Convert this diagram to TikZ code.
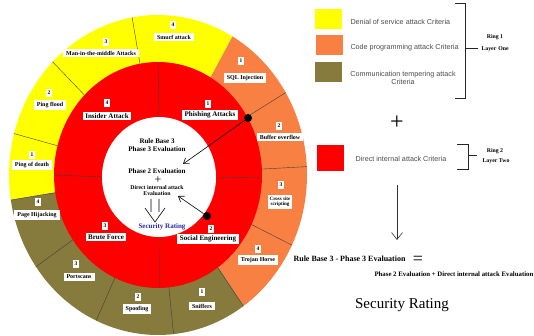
\documentclass[tikz,border=0pt]{standalone}
\usepackage{fontspec}
\setmainfont{Liberation Serif}
\newfontfamily\legfont{Liberation Sans}
\usetikzlibrary{arrows.meta}
\definecolor{cyel}{RGB}{255,255,0}
\definecolor{corg}{RGB}{247,128,66}
\definecolor{coli}{RGB}{134,122,60}
\definecolor{cred}{RGB}{255,0,0}
\definecolor{cblue}{RGB}{40,40,170}
\begin{document}
\begin{tikzpicture}[x=1pt,y=-1pt,
  lbl/.style={fill=white,inner xsep=3pt,inner ysep=2.2pt,font=\bfseries\fontsize{6}{6.5}\selectfont},
  slbl/.style={fill=white,inner xsep=2pt,inner ysep=1.5pt,align=center,font=\bfseries\fontsize{5}{5.5}\selectfont},
  ilbl/.style={fill=white,inner xsep=2.5pt,inner ysep=1.6pt,font=\bfseries\fontsize{7}{7.5}\selectfont},
  num/.style={fill=white,inner sep=2pt,font=\bfseries\fontsize{5.5}{5.5}\selectfont},
  ctext/.style={align=center,font=\bfseries\fontsize{7}{8}\selectfont},
  sep/.style={black!75,line width=0.4pt},
  dot/.style={circle,fill=black,inner sep=0pt,minimum size=8pt},
  arr/.style={black,line width=0.6pt,-{Straight Barb[length=5pt,width=7pt]}},
  sq/.style={minimum width=27pt,minimum height=20pt,inner sep=0pt},
  legtxt/.style={text=black!70,font=\legfont\fontsize{7.2}{8.5}\selectfont,align=center},
  ringtxt/.style={font=\bfseries\fontsize{5.8}{6}\selectfont},
  brk/.style={black!85,line width=0.8pt}
]
\useasboundingbox (0,0) rectangle (534,336);
\fill[white] (0,0) rectangle (534,336);
% outer ring sectors
\fill[cyel] (158,175) -- plot[domain=60:189,samples=60] ({158+149*cos(\x)},{175-160*sin(\x)}) -- cycle;
\fill[corg] (158,175) -- plot[domain=-55:60,samples=60] ({158+149*cos(\x)},{175-160*sin(\x)}) -- cycle;
\fill[coli] (158,175) -- plot[domain=189:305,samples=60] ({158+149*cos(\x)},{175-160*sin(\x)}) -- cycle;
% red ring and white centre
\fill[cred] (158,175) ellipse [x radius=104pt, y radius=113pt];
\fill[white] (159,177) ellipse [x radius=57pt, y radius=60pt];
% separators outer ring
\foreach \a in {31,3,-26,-55,-84,-114.5,-145,-171,165,135,100}
  \draw[sep] ({158+104*cos(\a)},{175-113*sin(\a)}) -- ({158+149*cos(\a)},{175-160*sin(\a)});
% separators red ring
\foreach \a in {90,-1,-89,180}
  \draw[sep] ({159+57*cos(\a)},{177-60*sin(\a)}) -- ({158+104*cos(\a)},{175-113*sin(\a)});

% outer labels
\node[num] (n1) at (173,25) {4};
\node[lbl] (l1) at (174,37) {Smurf attack};
\node[num] (n2) at (106,42) {3};
\node[lbl] (l2) at (101,53) {Man-in-the-middle Attacks};
\node[num] (n3) at (49,93) {2};
\node[lbl] (l3) at (50,105) {Ping flood};
\node[num] (n4) at (32,155) {1};
\node[lbl] (l4) at (32,165) {Ping of death};
\node[num] (n5) at (38,202) {4};
\node[lbl] (l5) at (37,215) {Page Hijacking};
\node[num] (n6) at (76,264) {3};
\node[lbl] (l6) at (79,277) {Portscans};
\node[num] (n7) at (138,297) {2};
\node[lbl] (l7) at (137,309) {Spoofing};
\node[num] (n8) at (202,292) {1};
\node[lbl] (l8) at (202,306) {Sniffers};
\node[num] (n9) at (258,249) {4};
\node[lbl] (l9) at (258,260) {Trojan Horse};
\node[num] (n10) at (281,185) {3};
\node[slbl] (l10) at (280,202) {Cross site\\scripting};
\node[num] (n11) at (279,126) {2};
\node[lbl] (l11) at (280,137) {Buffer overflow};
\node[num] (n12) at (241,61) {1};
\node[lbl] (l12) at (245,78) {SQL Injection};
% red ring labels
\node[num] (r1) at (208,104) {1};
\node[ilbl] (q1) at (210,115) {Phishing Attacks};
\node[num] (r2) at (107,103) {4};
\node[ilbl] (q2) at (107,116) {Insider Attack};
\node[num] (r3) at (105,226) {3};
\node[ilbl] (q3) at (106,237) {Brute Force};
\node[num] (r4) at (211,229) {2};
\node[ilbl] (q4) at (208,239) {Social Engineering};

% centre text
\node[ctext] (rb) at (157,145) {Rule Base 3\\Phase 3 Evaluation};
\node[ctext] (p2) at (157,171) {Phase 2 Evaluation};
\node[font=\fontsize{12}{12}\selectfont] (pl) at (158,180) {+};
\node[align=center,font=\bfseries\fontsize{5.8}{6}\selectfont] (di) at (157,191) {Direct internal attack\\Evaluation};
\node[text=cblue,font=\bfseries\fontsize{7}{8}\selectfont] (sr) at (162,227) {Security Rating};
\coordinate (dl1) at (151,199); \coordinate (dl2) at (151,212);
\coordinate (dr1) at (159,199); \coordinate (dr2) at (159,212);
\coordinate (hl) at (145,208); \coordinate (ht) at (155,222); \coordinate (hr) at (165,208);
\draw[line width=0.6pt] (dl1) -- (dl2) (dr1) -- (dr2) (hl) -- (ht) -- (hr);

% black dots and arrows
\node[dot] (d1) at (248,118) {};
\node[dot] (d2) at (207,216) {};
\coordinate (t1) at (183,164);
\coordinate (t2) at (178,196);
\draw[arr] (d1) -- (t1);
\draw[arr] (d2) -- (t2);

% legend
\node[sq,fill=cyel] (sy) at (328.5,19) {};
\node[sq,fill=corg] (so) at (329,45.5) {};
\node[sq,fill=coli] (sl) at (328.5,72) {};
\node[sq,fill=cred,minimum height=26pt] (sd) at (330.5,158) {};
\node[legtxt,anchor=west] (ty) at (347,22) {Denial of service attack Criteria};
\node[legtxt,anchor=west] (to) at (347,48) {Code programming attack Criteria};
\node[legtxt] (tl) at (403,78) {Communication tempering attack\\Criteria};
\node[legtxt] (td) at (401,159) {Direct internal attack Criteria};
% bracket 1
\coordinate (b1a) at (455,3); \coordinate (b1b) at (465,3);
\coordinate (b1c) at (465,98); \coordinate (b1d) at (455,98);
\coordinate (b1m) at (465,48); \coordinate (b1e) at (478,48);
\draw[brk] (b1a) -- (b1b) -- (b1c) -- (b1d);
\draw[black!85,line width=0.6pt] (b1m) -- (b1e);
\node[ringtxt] (ring1) at (495,37) {Ring 1};
\node[ringtxt,anchor=west] (lay1) at (478,49) {Layer\,\,One};
% plus
\node[font=\fontsize{24}{24}\selectfont] (plus) at (397,123) {+};
% bracket 2
\coordinate (b2a) at (457,144); \coordinate (b2b) at (468,144);
\coordinate (b2c) at (468,169); \coordinate (b2d) at (457,169);
\coordinate (b2m) at (468,155); \coordinate (b2e) at (477,155);
\draw[brk] (b2a) -- (b2b) -- (b2c) -- (b2d);
\draw[black!85,line width=0.6pt] (b2m) -- (b2e);
\node[ringtxt] (ring2) at (495,151) {Ring 2};
\node[ringtxt] (lay2) at (496,161) {Layer Two};
% down arrow
\coordinate (da1) at (397,185);
\coordinate (da2) at (397,240);
\draw[black!80,line width=0.6pt,-{Straight Barb[length=7pt,width=11pt]}] (da1) -- (da2);
% equation
\node[anchor=west,font=\bfseries\fontsize{8}{9}\selectfont] (eqa) at (290,259) {Rule Base 3 - Phase 3 Evaluation};
\node[font=\fontsize{18}{18}\selectfont] (eq) at (418,260) {=};
\node[anchor=west,font=\bfseries\fontsize{6.8}{7}\selectfont] (eqb) at (371,274) {Phase 2 Evaluation + Direct internal attack Evaluation};
\node[font=\fontsize{15}{16}\selectfont] (srb) at (402,305) {Security Rating};
\end{tikzpicture}
\end{document}
